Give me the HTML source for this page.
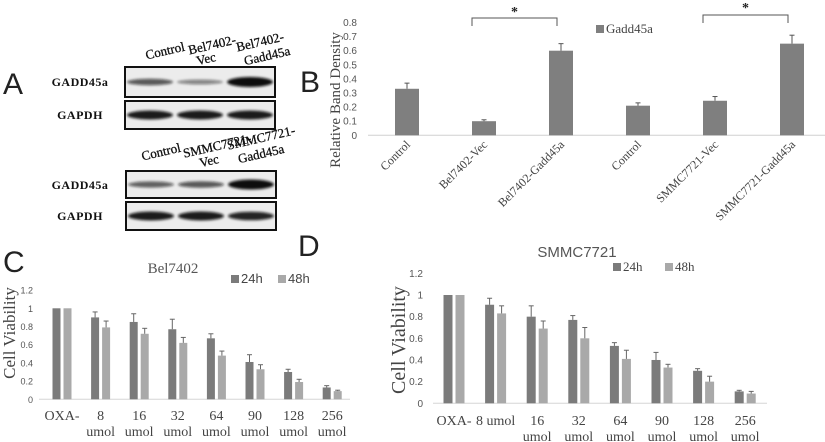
<!DOCTYPE html>
<html><head><meta charset="utf-8"><style>
html,body{margin:0;padding:0;background:#fff;width:825px;height:442px;overflow:hidden}
svg text{font-family:"Liberation Serif",serif}
.sans{font-family:"Liberation Sans",sans-serif !important}
</style></head><body>
<svg id="fig" width="825" height="442" viewBox="0 0 825 442" xmlns="http://www.w3.org/2000/svg">
<defs><filter id="blur" x="-20%" y="-200%" width="140%" height="500%"><feGaussianBlur stdDeviation="1.4"/></filter></defs>
<text class="sans" x="3" y="94" font-size="30" fill="#222">A</text>
<text class="sans" x="300" y="92" font-size="30" fill="#222">B</text>
<text class="sans" x="3" y="272" font-size="30" fill="#222">C</text>
<text class="sans" x="298" y="256" font-size="30" fill="#222">D</text>
<g id="blots"></g>
<g id="chartB"></g>
<g id="chartC"></g>
<g id="chartD"></g>
</svg>
<script>
const NS="http://www.w3.org/2000/svg";
function mk(parent,tag,attrs,txt){const e=document.createElementNS(NS,tag);for(const k in attrs)e.setAttribute(k,attrs[k]);if(txt!==undefined)e.textContent=txt;parent.appendChild(e);return e;}

// ---------- Panel B data ----------
const bCategories=["Control","Bel7402-Vec","Bel7402-Gadd45a","Control","SMMC7721-Vec","SMMC7721-Gadd45a"];
const bValues=[0.33,0.10,0.60,0.21,0.245,0.65];
const bErrors=[0.04,0.01,0.05,0.02,0.03,0.06];
const bTicks=[0,0.1,0.2,0.3,0.4,0.5,0.6,0.7,0.8];

// ---------- Panel C data ----------
const cCategories=[["OXA-"],["8","umol"],["16","umol"],["32","umol"],["64","umol"],["90","umol"],["128","umol"],["256","umol"]];
const c24=[1,0.90,0.85,0.77,0.67,0.41,0.30,0.13];
const c24err=[0,0.06,0.09,0.11,0.05,0.08,0.03,0.02];
const c48=[1,0.79,0.72,0.62,0.48,0.33,0.19,0.09];
const c48err=[0,0.07,0.06,0.06,0.05,0.05,0.03,0.01];
const viaTicks=[0,0.2,0.4,0.6,0.8,1,1.2];

// ---------- Panel D data ----------
const dCategories=[["OXA-"],["8 umol"],["16","umol"],["32","umol"],["64","umol"],["90","umol"],["128","umol"],["256","umol"]];
const d24=[1,0.91,0.80,0.77,0.53,0.40,0.30,0.11];
const d24err=[0,0.06,0.10,0.04,0.03,0.07,0.02,0.01];
const d48=[1,0.83,0.69,0.60,0.41,0.33,0.20,0.09];
const d48err=[0,0.07,0.07,0.10,0.08,0.03,0.05,0.02];

// ---------- Blots ----------
const blotLanes=[
 {box:[125,67,150,30],bands:[0.5,0.25,1.0]},
 {box:[125,101,150,28],bands:[0.85,0.85,0.85]},
 {box:[126,171,150,27],bands:[0.45,0.5,1.0]},
 {box:[126,202,150,28],bands:[0.85,0.85,0.8]}];
const blots=document.getElementById('blots');
blotLanes.forEach((b,i)=>{
 const [x,y,w,h]=b.box;
 const r=mk(blots,'rect',{x:x,y:y,width:w,height:h,fill:'#ececec',stroke:'#111','stroke-width':2});
 
 
 b.bands.forEach((s,j)=>{
  const cx=x+25+j*50;
  const e=mk(blots,'ellipse',{cx:cx,cy:y+h/2,rx:23,ry:1.5+s*3.5,fill:'#111','fill-opacity':Math.min(1,0.3+s*0.75),filter:'url(#blur)'});
  
  
 });
});
const rowLabels=[["GADD45a",86],["GAPDH",119],["GADD45a",189],["GAPDH",220]];
rowLabels.forEach(l=>{const t=mk(blots,'text',{x:80,y:l[1],'font-size':12,'font-weight':'bold','text-anchor':'middle',fill:'#111','letter-spacing':'0.5'},l[0]);
 });
const colLabels=[[166,55,"Control"],[213,49,"Bel7402-"],[207,63,"Vec"],[261,46,"Bel7402-"],[268,60,"Gadd45a"],
 [162,156,"Control"],[218,150,"SMMC7721-"],[210,165,"Vec"],[262,142,"SMMC7721-"],[262,158,"Gadd45a"]];
colLabels.forEach(c=>{const t=mk(blots,'text',{transform:`translate(${c[0]},${c[1]}) rotate(-13)`,'font-size':13,'text-anchor':'middle',fill:'#111',stroke:'#111','stroke-width':0.3},c[2]);
 });

// ---------- Panel B ----------
(function(){
 const g=document.getElementById('chartB');
 const y0=135.3,per=141;
 const y=v=>y0-v*per;
 const x=i=>407+i*77;
 mk(g,'line',{x1:368,y1:y0,x2:825,y2:y0,stroke:'#d0d0d0','stroke-width':1});
 bTicks.forEach(t=>{const e=mk(g,'text',{class:'sans',x:357,y:y(t)+3.5,'font-size':10,'text-anchor':'end',fill:'#555'},String(t));
  });
 bValues.forEach((v,i)=>{
  const r=mk(g,'rect',{x:x(i)-12,y:y(v),width:24,height:y0-y(v),fill:'#7f7f7f'});
  
  const ey=y(v+bErrors[i]);
  mk(g,'line',{x1:x(i),y1:y(v),x2:x(i),y2:ey,stroke:'#555'});
  mk(g,'line',{x1:x(i)-2.5,y1:ey,x2:x(i)+2.5,y2:ey,stroke:'#555'});
  const t=mk(g,'text',{transform:`translate(${x(i)+4},${y0+10}) rotate(-45)`,'font-size':12,'text-anchor':'end',fill:'#444'},bCategories[i]);
  
 });
 const yt=mk(g,'text',{transform:'translate(340,100) rotate(-90)','font-size':15,'text-anchor':'middle',fill:'#444'},'Relative Band Density');
 
 mk(g,'rect',{x:596,y:25,width:8,height:8,fill:'#7f7f7f'});
 const lg=mk(g,'text',{x:606,y:33,'font-size':13,fill:'#444'},'Gadd45a');
 
 [[x(1),x(2),18,12],[x(4),x(5),15,8]].forEach(b=>{
  mk(g,'path',{d:`M${b[0]-12},${b[2]+8}V${b[2]}H${b[1]-4}V${b[2]+8}`,fill:'none',stroke:'#555'});
  const s=mk(g,'text',{x:(b[0]+b[1])/2-8,y:b[3]+4,'font-size':14,'font-weight':'bold','text-anchor':'middle',fill:'#222'},'*');
  
 });
})();

// ---------- Viability charts ----------
function viab(id,cfg,cats,s24,e24,s48,e48){
 const g=document.getElementById(id);
 const y=v=>cfg.y0-v*cfg.per;
 const gx=i=>cfg.gx0+i*cfg.step;
 mk(g,'line',{x1:cfg.ax0,y1:cfg.y0,x2:cfg.ax1,y2:cfg.y0,stroke:'#d6d6d6'});
 viaTicks.forEach(t=>{const e=mk(g,'text',{class:'sans',x:cfg.tickX,y:y(t)+3.5,'font-size':cfg.tickSize,'text-anchor':'end',fill:'#555'},String(t));
  });
 const bw=cfg.bw;
 function series(vals,errs,off,col,name){
  vals.forEach((v,i)=>{
   const cx=gx(i)+off;
   const r=mk(g,'rect',{x:cx-bw/2,y:y(v),width:bw,height:cfg.y0-y(v),fill:col});
   
   if(errs[i]>0){const ey=y(v+errs[i]);
    mk(g,'line',{x1:cx,y1:y(v),x2:cx,y2:ey,stroke:'#666'});
    mk(g,'line',{x1:cx-2.5,y1:ey,x2:cx+2.5,y2:ey,stroke:'#666'});}
  });
 }
 const off=bw/2+1.5;
 series(s24,e24,-off,'#7b7b7b','bar-24h');
 series(s48,e48,off,'#a9a9a9','bar-48h');
 cats.forEach((c,i)=>{const t=mk(g,'text',{x:gx(i),y:cfg.lab1,'font-size':14,'text-anchor':'middle',fill:'#444'});
  c.forEach((s,k)=>mk(t,'tspan',{x:gx(i),dy:k?16:0},s));
  });
 const tt=mk(g,'text',{x:cfg.titleX,y:cfg.titleY,'font-size':15,'text-anchor':'middle',fill:'#555',class:cfg.titleSans?'sans':''},cfg.title);
 
 const yt=mk(g,'text',{transform:`translate(${cfg.ytX},${cfg.ytY}) rotate(-90)`,'font-size':cfg.ytSize,'text-anchor':'middle',fill:'#444'},'Cell Viability');
 
 [['24h','#7b7b7b',cfg.l1],['48h','#a9a9a9',cfg.l2]].forEach(l=>{
  mk(g,'rect',{x:l[2],y:cfg.ly-8,width:8,height:8,fill:l[1]});
  const e=mk(g,'text',{x:l[2]+10,y:cfg.ly,'font-size':13,fill:'#444',class:cfg.legSans?'sans':''},l[0]);
  
 });
}
viab('chartC',{y0:399.3,per:91,ax0:39,ax1:350,gx0:62,step:38.6,bw:8,tickX:33,tickSize:9,lab1:420,title:'Bel7402',titleX:173,titleY:273,
 ytX:15,ytY:333,ytSize:17,l1:231,l2:278,ly:283,legSans:true},cCategories,c24,c24err,c48,c48err);
viab('chartD',{y0:403.3,per:108.3,ax0:433,ax1:767,gx0:454,step:41.6,bw:9,tickX:423,tickSize:10,lab1:425,title:'SMMC7721',titleX:577,titleY:257,titleSans:true,
 ytX:405,ytY:340,ytSize:20,l1:613,l2:665,ly:271},dCategories,d24,d24err,d48,d48err);
</script>
</body></html>
